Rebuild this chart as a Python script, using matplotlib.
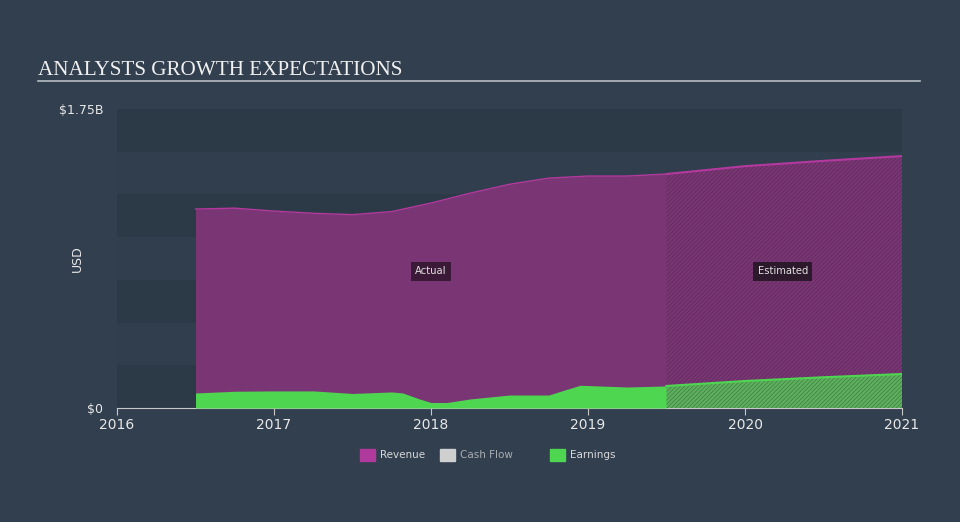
import matplotlib.pyplot as plt
import numpy as np

# values in $B
rev_x = [2016.5, 2016.75, 2017.0, 2017.25, 2017.5, 2017.75, 2018.0, 2018.25, 2018.5, 2018.75, 2019.0, 2019.25, 2019.5]
rev_y = [1.165, 1.170, 1.153, 1.140, 1.132, 1.150, 1.200, 1.258, 1.310, 1.346, 1.358, 1.358, 1.370]
rev_est_x = [2019.5, 2020.0, 2020.5, 2021.0]
rev_est_y = [1.370, 1.416, 1.447, 1.475]

earn_x = [2016.5, 2016.75, 2017.0, 2017.25, 2017.5, 2017.75, 2017.82, 2017.92, 2018.0, 2018.1, 2018.25, 2018.5, 2018.75, 2018.85, 2018.95, 2019.25, 2019.5]
earn_y = [0.088, 0.098, 0.100, 0.100, 0.085, 0.094, 0.088, 0.055, 0.032, 0.032, 0.053, 0.076, 0.076, 0.105, 0.133, 0.123, 0.129]
earn_est_x = [2019.5, 2020.0, 2020.5, 2021.0]
earn_est_y = [0.129, 0.158, 0.180, 0.199]

years = [2016, 2017, 2018, 2019, 2020, 2021]

bg = '#323f4f'
purple = '#7a3674'
magenta = '#b3399e'
green = '#4fd651'

plt.rcParams['hatch.linewidth'] = 0.5
fig = plt.figure(figsize=(9.6, 5.22), dpi=100)
fig.patch.set_facecolor(bg)
ax = fig.add_axes([0.1219, 0.2184, 0.8177, 0.5726])
ax.set_facecolor(bg)

# background bands
for i in range(7):
    c = '#2c3947' if i % 2 == 0 else '#313e4d'
    ax.axhspan(1.75 - (i + 1) * 0.25, 1.75 - i * 0.25, color=c, lw=0, zorder=0)

ax.fill_between(rev_x, 0, rev_y, color=purple, lw=0, zorder=1)
ax.plot(rev_x, rev_y, color=magenta, lw=1, zorder=2)
ax.fill_between(rev_est_x, 0, rev_est_y, facecolor=purple, edgecolor='#5c2a59', hatch='////////', lw=0, zorder=1)
ax.plot(rev_est_x, rev_est_y, color=magenta, lw=1.5, zorder=2)

ax.fill_between(earn_x, 0, earn_y, color=green, lw=0, zorder=3)
ax.fill_between(earn_est_x, 0, earn_est_y, facecolor='#5fb05e', edgecolor='#3c7f41', hatch='////////', lw=0, zorder=3)
ax.plot(earn_est_x, earn_est_y, color=green, lw=1.5, zorder=4)

ax.text(2018.0, 0.80, 'Actual', color='#e0e0e0', fontsize=7.2, ha='center', va='center',
        bbox=dict(facecolor='#3b1a38', edgecolor='none', pad=3), zorder=5)
ax.text(2021.0 - 0.76, 0.80, 'Estimated', color='#e0e0e0', fontsize=7.2, ha='center', va='center',
        bbox=dict(facecolor='#2c1a2c', edgecolor='none', pad=3), zorder=5)

ax.set_xlim(2016, 2021)
ax.set_ylim(0, 1.75)
ax.set_xticks(years)
ax.set_xticklabels([str(y) for y in years], color='#e8e8e8', fontsize=10)
ax.set_yticks([0, 1.75])
ax.set_yticklabels(['$0', '$1.75B'], color='#e8e8e8', fontsize=9)
ax.tick_params(axis='y', length=0, pad=10)
ax.tick_params(axis='x', length=5, color='#c8c8c8', pad=2)
for s in ['top', 'right', 'left']:
    ax.spines[s].set_visible(False)
ax.spines['bottom'].set_color('#c8c8c8')
ax.set_ylabel('USD', color='#e8e8e8', fontsize=9)
ax.yaxis.set_label_coords(-0.042, 0.5)

fig.text(0.04, 0.857, 'ANALYSTS GROWTH EXPECTATIONS', color='#f0f0f0', fontsize=15.2,
         family='Liberation Serif', va='baseline')
fig.add_artist(plt.Line2D([0.04, 0.958], [0.845, 0.845], color='#b8bcc2', lw=1.2))

# legend
items = [('Revenue', '#b0399c'), ('Cash Flow', '#cfcfcf'), ('Earnings', green)]
lx = [0.375, 0.458, 0.573]
for (name, c), x in zip(items, lx):
    fig.patches.append(plt.Rectangle((x, 0.117), 0.016, 0.023, color=c, transform=fig.transFigure))
    fig.text(x + 0.021, 0.1285, name, color='#d8d8d8' if name != 'Cash Flow' else '#a8adb3',
             fontsize=7.5, va='center')

plt.savefig('out.png', facecolor=bg)
